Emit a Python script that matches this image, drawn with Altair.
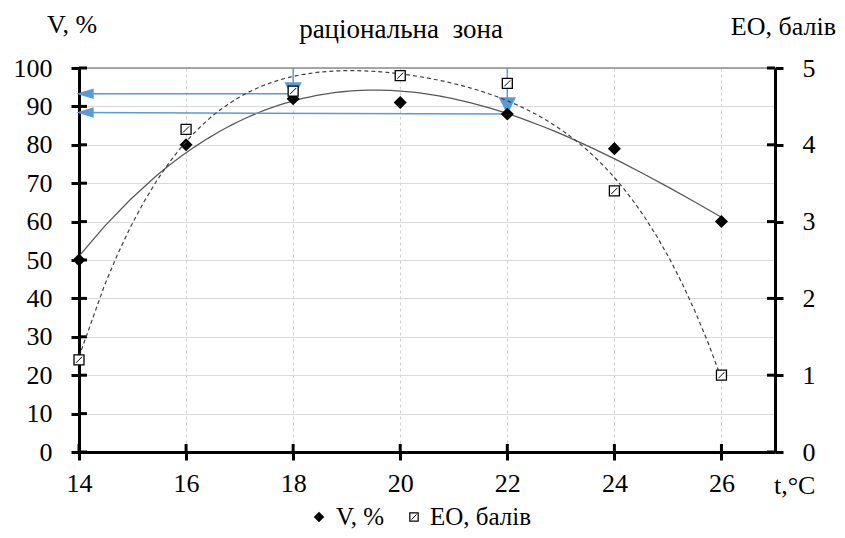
import altair as alt
import pandas as pd

# ---------------- data ----------------
t_values = [14, 16, 18, 20, 22, 24, 26]
v_values = [50, 80, 92, 91, 88, 79, 60]
eo_values = [1.2, 4.2, 4.7, 4.9, 4.8, 3.4, 1.0]

x_ticks = [14, 16, 18, 20, 22, 24, 26]
v_ticks = [0, 10, 20, 30, 40, 50, 60, 70, 80, 90, 100]
eo_ticks = [0, 1, 2, 3, 4, 5]

# annotation arrows (in V units)
arrow_h_x_start = [18, 22]
arrow_h_y_start = [93.3, 88.0]
arrow_h_x_end = [14, 14]
arrow_h_y_end = [93.3, 88.4]
arrow_v_x = [18, 22]
arrow_v_y_start = [100, 100]
arrow_v_y_end = [92.2, 88.3]

top_line = [100]

# ---------------- style ----------------
FONT = "'Liberation Serif', 'Times New Roman', serif"
FS = 26
BLUE = "#5B9BD5"
W, H = 696, 384

df = pd.DataFrame({"t": t_values, "v": v_values, "eo": eo_values})
df_h = pd.DataFrame({"x0": arrow_h_x_start, "y0": arrow_h_y_start,
                     "x1": arrow_h_x_end, "y1": arrow_h_y_end})
df_v = pd.DataFrame({"x0": arrow_v_x, "y0": arrow_v_y_start, "y1": arrow_v_y_end})

xs = alt.Scale(domain=[14, 27], nice=False, zero=False)
vs = alt.Scale(domain=[0, 100], nice=False)
es = alt.Scale(domain=[0, 5], nice=False)

x_axis = alt.Axis(values=x_ticks, title=None, domainColor="black", domainWidth=3,
                  tickColor="black", tickWidth=3, tickSize=8, labelFont=FONT,
                  labelFontSize=FS, labelColor="black", labelPadding=10,
                  grid=True, gridDash=[3, 3], gridColor="#d0d0d0", gridWidth=1,
                  labelFlush=False, format="d")
v_axis = alt.Axis(values=v_ticks, title=None, orient="left", domainColor="black",
                  domainWidth=3, tickColor="black", tickWidth=3, tickSize=8,
                  labelFont=FONT, labelFontSize=FS, labelColor="black",
                  labelPadding=19, grid=True, gridColor="#d9d9d9", gridWidth=1,
                  format="d")
e_axis = alt.Axis(values=eo_ticks, title=None, orient="right", domainColor="black",
                  domainWidth=3, tickColor="black", tickWidth=3, tickSize=8,
                  labelFont=FONT, labelFontSize=FS, labelColor="black",
                  labelPadding=19, grid=False, format="d")


def X(field):
    return alt.X(f"{field}:Q", scale=xs, axis=x_axis)


def YV(field):
    return alt.Y(f"{field}:Q", scale=vs, axis=v_axis)


def YE(field):
    return alt.Y(f"{field}:Q", scale=es, axis=e_axis)


base = alt.Chart(df)

# ---------- left (V) group ----------
top_rule = alt.Chart(pd.DataFrame({"y": top_line})).mark_rule(
    color="#8c8c8c", strokeWidth=1.5).encode(y=YV("y"))

v_trend = base.transform_regression("t", "v", method="poly", order=3,
                                    extent=[14, 26]).mark_line(
    color="#595959", strokeWidth=1.3).encode(x=X("t"), y=YV("v"))

v_points = base.mark_point(shape="diamond", filled=True, color="black",
                           size=170, opacity=1).encode(x=X("t"), y=YV("v"))

h_lines = alt.Chart(df_h).mark_rule(color=BLUE, strokeWidth=1.5).encode(
    x=X("x0"), x2="x1:Q", y=YV("y0"), y2="y1:Q")
h_heads = alt.Chart(df_h).mark_point(
    shape="M -1 0 L 1 -0.6 L 1 0.6 Z", filled=True, color=BLUE, size=300,
    opacity=1, xOffset=6).encode(x=X("x1"), y=YV("y1"))

v_lines = alt.Chart(df_v).mark_rule(color=BLUE, strokeWidth=1.5).encode(
    x=X("x0"), y=YV("y0"), y2="y1:Q")
v_heads = alt.Chart(df_v).mark_point(
    shape="M 0 1 L -1 -1 L 1 -1 Z", filled=True, color=BLUE, size=300,
    opacity=1, yOffset=-7).encode(x=X("x0"), y=YV("y1"))

left_inner = alt.Chart(pd.DataFrame({"tick": v_ticks})).mark_rule(
    color="black", strokeWidth=3).encode(y=YV("tick"), x=alt.value(0), x2=alt.value(8))
bottom_inner = alt.Chart(pd.DataFrame({"tick": x_ticks})).mark_rule(
    color="black", strokeWidth=3).encode(x=X("tick"), y=alt.value(H - 8), y2=alt.value(H))


def label(text, x, y, align="left", baseline="alphabetic", size=FS):
    return alt.Chart(pd.DataFrame({"s": [text]})).mark_text(
        font=FONT, fontSize=size, color="black", align=align,
        baseline=baseline).encode(text="s:N", x=alt.value(x), y=alt.value(y))


texts = [
    label("V, %", -32, -35),
    label("раціональна\u00a0\u00a0зона", 322, -30, align="center", size=27),
    label("EO, балів", 757, -33, align="right"),
    label("t,°C", 695, 426),
    label("V, %", 257, 457, size=25),
    label("EO, балів", 351, 457, size=25),
]

leg_diamond = alt.Chart(pd.DataFrame({"k": [0]})).mark_point(
    shape="diamond", filled=True, color="black", size=110, opacity=1).encode(
    x=alt.value(240), y=alt.value(449))
leg_square = alt.Chart(pd.DataFrame({"k": [0]})).mark_point(
    shape="square", filled=True, fill="white", stroke="black", strokeWidth=1.2,
    size=70, opacity=1).encode(x=alt.value(335), y=alt.value(449))
leg_hatch = alt.Chart(pd.DataFrame({"k": [0]})).mark_point(
    shape="M -0.6 0.6 L 0.6 -0.6", stroke="black", strokeWidth=1, size=70,
    opacity=1).encode(x=alt.value(335), y=alt.value(449))

left = alt.layer(top_rule, left_inner, bottom_inner, v_trend, h_lines, v_lines,
                 h_heads, v_heads, v_points, *texts, leg_diamond, leg_square,
                 leg_hatch)

# ---------- right (EO) group ----------
e_trend = base.transform_regression("t", "eo", method="poly", order=4,
                                    extent=[14, 26]).mark_line(
    color="#404040", strokeWidth=1.2, strokeDash=[4, 3]).encode(x=X("t"), y=YE("eo"))
e_points = base.mark_point(shape="square", filled=True, fill="white",
                           stroke="black", strokeWidth=1.3, size=100,
                           opacity=1).encode(x=X("t"), y=YE("eo"))
e_hatch = base.mark_point(shape="M -0.6 0.6 L 0.6 -0.6", stroke="black",
                          strokeWidth=1, size=100, opacity=1).encode(
    x=X("t"), y=YE("eo"))
right_inner = alt.Chart(pd.DataFrame({"tick": eo_ticks})).mark_rule(
    color="black", strokeWidth=3).encode(y=YE("tick"), x=alt.value(W - 8), x2=alt.value(W))

right = alt.layer(e_trend, right_inner, e_points, e_hatch)

chart = alt.layer(left, right).resolve_scale(y="independent").properties(
    width=W, height=H,
    autosize=alt.AutoSizeParams(type="none"),
    padding={"left": 71, "top": 60, "right": 62, "bottom": 78},
).configure_view(stroke=None).configure(background="white")

chart.save("out.html", embed_options={"renderer": "svg", "actions": False})
